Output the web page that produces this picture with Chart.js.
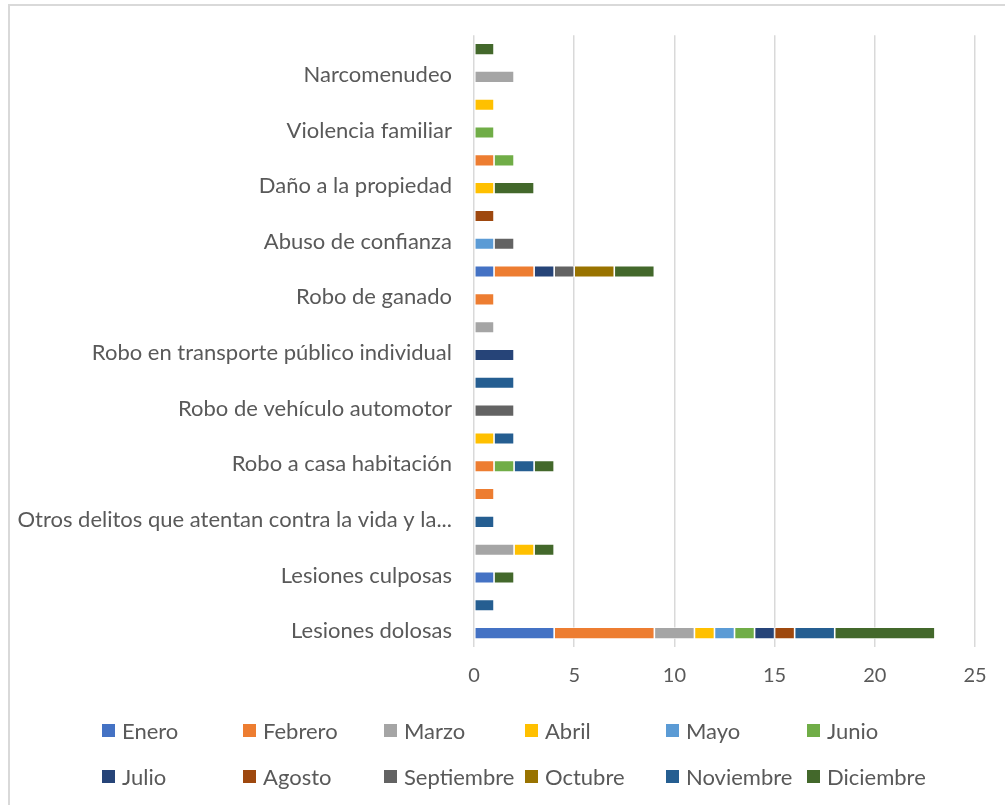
<!DOCTYPE html>
<html>
<head>
<meta charset="utf-8">
<script src="https://cdn.jsdelivr.net/npm/chart.js@4"></script>
<style>
  html, body { margin:0; padding:0; background:#fff; }
  #wrap { position:relative; width:1005px; height:805px; overflow:hidden; }
  #frame { position:absolute; left:8px; top:4px; width:1010px; height:820px; border:2px solid #d9d9d9; box-sizing:border-box; }
  #chart { position:absolute; left:0; top:0; }
  #legend { position:absolute; left:102px; top:717px; display:grid; grid-template-columns:repeat(6, 141px); row-gap:19px;
            font-family:Lato, sans-serif; font-size:22px; color:#595959; }
  #legend .item { display:flex; align-items:center; height:27px; white-space:nowrap; }
  #legend .box { width:13px; height:13px; margin-right:7px; flex:none; }
</style>
</head>
<body>
<div id="wrap">
  <div id="frame"></div>
  <canvas id="chart" width="1005" height="805"></canvas>
  <div id="legend"></div>
</div>
<script>
// categorias, de abajo hacia arriba (orden de Excel)
const categorias = [
  "Lesiones dolosas",
  "Homicidio culposo",
  "Lesiones culposas",
  "Abuso sexual",
  "Otros delitos que atentan contra la vida y la integridad corporal",
  "Amenazas",
  "Robo a casa habitación",
  "Robo a negocio",
  "Robo de vehículo automotor",
  "Robo de autopartes",
  "Robo en transporte público individual",
  "Robo a transeúnte en vía pública",
  "Robo de ganado",
  "Otros robos",
  "Abuso de confianza",
  "Fraude",
  "Daño a la propiedad",
  "Despojo",
  "Violencia familiar",
  "Incumplimiento de obligaciones de asistencia familiar",
  "Narcomenudeo",
  "Otros delitos del Fuero Común"
];

const meses = ["Enero","Febrero","Marzo","Abril","Mayo","Junio","Julio","Agosto","Septiembre","Octubre","Noviembre","Diciembre"];
const colores = ["#4472C4","#ED7D31","#A5A5A5","#FFC000","#5B9BD5","#70AD47","#264478","#9E480E","#636363","#997300","#255E91","#43682B"];

const enero      = [4,0,1,0,0,0,0,0,0,0,0,0,0,1,0,0,0,0,0,0,0,0];
const febrero    = [5,0,0,0,0,1,1,0,0,0,0,0,1,2,0,0,0,1,0,0,0,0];
const marzo      = [2,0,0,2,0,0,0,0,0,0,0,1,0,0,0,0,0,0,0,0,2,0];
const abril      = [1,0,0,1,0,0,0,1,0,0,0,0,0,0,0,0,1,0,0,1,0,0];
const mayo       = [1,0,0,0,0,0,0,0,0,0,0,0,0,0,1,0,0,0,0,0,0,0];
const junio      = [1,0,0,0,0,0,1,0,0,0,0,0,0,0,0,0,0,1,1,0,0,0];
const julio      = [1,0,0,0,0,0,0,0,0,0,2,0,0,1,0,0,0,0,0,0,0,0];
const agosto     = [1,0,0,0,0,0,0,0,0,0,0,0,0,0,0,1,0,0,0,0,0,0];
const septiembre = [0,0,0,0,0,0,0,0,2,0,0,0,0,1,1,0,0,0,0,0,0,0];
const octubre    = [0,0,0,0,0,0,0,0,0,0,0,0,0,2,0,0,0,0,0,0,0,0];
const noviembre  = [2,1,0,0,1,0,1,1,0,2,0,0,0,0,0,0,0,0,0,0,0,0];
const diciembre  = [5,0,1,1,0,0,1,0,0,0,0,0,0,2,0,0,2,0,0,0,0,1];

const series = [enero,febrero,marzo,abril,mayo,junio,julio,agosto,septiembre,octubre,noviembre,diciembre];
const ticksX = [0,5,10,15,20,25];

const FONT = "Lato, sans-serif";
const GRIS = "#595959";

function recortar(txt, max){
  return txt.length > max ? txt.slice(0, max).trimEnd() + "..." : txt;
}

const chart = new Chart(document.getElementById('chart').getContext('2d'), {
  type: 'bar',
  data: {
    labels: categorias,
    datasets: series.map((s, i) => ({
      label: meses[i],
      data: s.map(v => v || null),
      backgroundColor: colores[i],
      borderColor: '#ffffff',
      borderWidth: 0.8,
      borderSkipped: false,
      categoryPercentage: 1,
      barPercentage: 0.42
    }))
  },
  options: {
    indexAxis: 'y',
    responsive: false,
    animation: false,
    layout: { padding: { top: 32, right: 30, left: 0, bottom: 0 } },
    plugins: { legend: { display: false }, tooltip: { enabled: false } },
    scales: {
      x: {
        stacked: true,
        min: 0, max: 25,
        afterBuildTicks: (sc) => { sc.ticks = ticksX.map(v => ({ value: v })); },
        grid: { color: '#d9d9d9', lineWidth: 1.5, drawTicks: false },
        border: { display: false },
        ticks: { color: GRIS, font: { family: FONT, size: 20 }, padding: 17 },
        afterFit: (sc) => { sc.height = 158; }
      },
      y: {
        stacked: true,
        reverse: true,
        grid: { display: false, drawTicks: false },
        border: { display: false },
        ticks: {
          autoSkip: false,
          color: GRIS,
          font: { family: FONT, size: 22 },
          padding: 22,
          labelOffset: -2,
          callback: function(v, i){ return i % 2 === 0 ? recortar(this.getLabelForValue(v), 45) : ''; }
        },
        afterFit: (sc) => { sc.width = 474; }
      }
    }
  }
});

// leyenda en rejilla, como en Excel
const leg = document.getElementById('legend');
chart.data.datasets.forEach(ds => {
  const it = document.createElement('div');
  it.className = 'item';
  const b = document.createElement('span');
  b.className = 'box';
  b.style.background = ds.backgroundColor;
  const t = document.createElement('span');
  t.textContent = ds.label;
  it.appendChild(b); it.appendChild(t);
  leg.appendChild(it);
});
</script>
</body>
</html>
